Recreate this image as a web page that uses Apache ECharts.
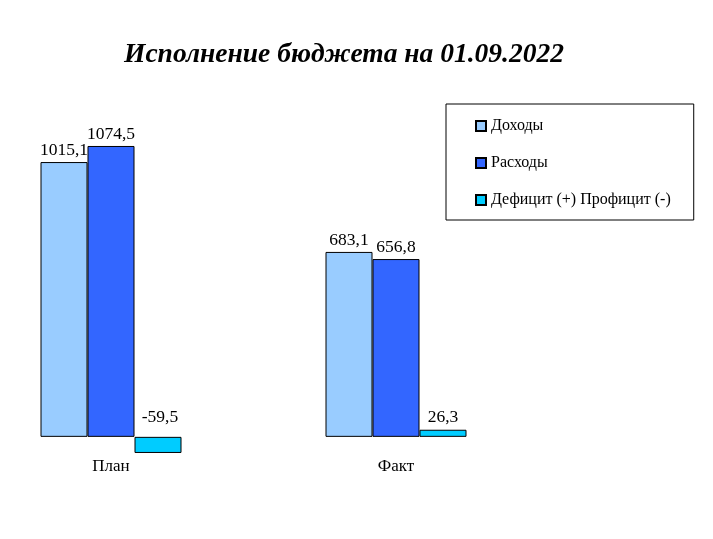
<!DOCTYPE html>
<html><head><meta charset="utf-8">
<script src="https://cdn.jsdelivr.net/npm/echarts@6/dist/echarts.min.js"></script>
<style>html,body{margin:0;padding:0;background:#fff}#c{width:713px;height:539px}</style>
</head><body><div id="c"></div>
<script>
const categories = ['План', 'Факт'];
const seriesNames = ['Доходы', 'Расходы', 'Дефицит (+) Профицит (-)'];
const incomeValues = [1015.1, 683.1];
const expenseValues = [1074.5, 656.8];
const balanceValues = [-59.5, 26.3];
const colors = ['#99CCFF', '#3366FF', '#00CCFF'];
const fmt = v => v.toFixed(1).replace('.', ',');
const font = 'Liberation Serif, Times New Roman, serif';

const chart = echarts.init(document.getElementById('c'));
const mk = (name, vals, color) => ({
  name, type: 'bar', barWidth: 47, barGap: '0%',
  data: vals.map(v => v < 0 ? {value: v, label: {position: 'insideBottom', offset: [2, -24]}} : v),
  itemStyle: {color, borderColor: '#000', borderWidth: 1},
  label: {show: true, position: 'top', distance: 3, color: '#000', fontFamily: font, fontSize: 17.5,
    formatter: p => fmt(p.value)}
});
chart.setOption({
  animation: false,
  title: {text: 'Исполнение бюджета на 01.09.2022', left: 119, top: 36,
    textStyle: {fontFamily: font, fontSize: 27.5, fontWeight: 'bold', fontStyle: 'italic', color: '#000'}},
  legend: {orient: 'vertical', left: 446, top: 104, itemWidth: 10, itemHeight: 10, itemGap: 21, icon: 'rect',
    padding: [14, 23, 12, 29], borderColor: '#000', borderWidth: 1,
    textStyle: {fontFamily: font, fontSize: 16, color: '#000'}, data: seriesNames},
  grid: {left: -31.5, width: 570, top: 112, bottom: 48, outerBoundsMode: 'none', containLabel: false},
  xAxis: {type: 'category', data: categories, offset: -54, axisLine: {show: false, onZero: false}, axisTick: {show: false},
    axisLabel: {margin: 21, fontFamily: font, fontSize: 17, color: '#000'}},
  yAxis: {type: 'value', min: -200, max: 1200, show: false, splitLine: {show: false}},
  series: [mk(seriesNames[0], incomeValues, colors[0]), mk(seriesNames[1], expenseValues, colors[1]), mk(seriesNames[2], balanceValues, colors[2])]
});
</script></body></html>
